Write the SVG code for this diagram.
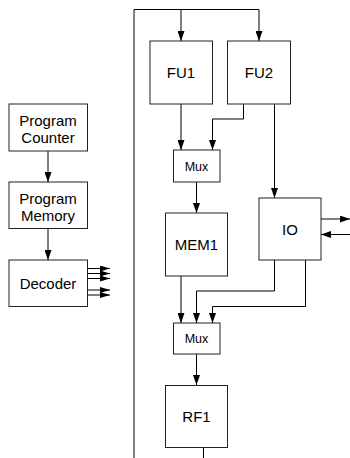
<svg xmlns="http://www.w3.org/2000/svg" width="350" height="458" viewBox="0 0 350 458">
<style>
.box{fill:#fff;stroke:#222;stroke-width:1}
.t{font-family:"Liberation Sans",Arial,sans-serif;font-size:15px;fill:#000;text-anchor:middle}
.s{font-family:"Liberation Sans",Arial,sans-serif;font-size:12.5px;fill:#000;text-anchor:middle}
.c{fill:none;stroke:#000;stroke-width:1}
.ca{fill:none;stroke:#000;stroke-width:1;marker-end:url(#ah)}
.cs{fill:none;stroke:#000;stroke-width:1;marker-end:url(#as)}
</style>
<defs>
<marker id="ah" markerUnits="userSpaceOnUse" markerWidth="10" markerHeight="7" refX="10" refY="3.5" orient="auto"><path d="M0,0 L10,3.5 L0,7 z" fill="#000"/></marker>
<marker id="as" markerUnits="userSpaceOnUse" markerWidth="10" markerHeight="6" refX="10" refY="3" orient="auto"><path d="M0,0 L10,3 L0,6 z" fill="#000"/></marker>
</defs>
<g id="connectors">
<path class="c" d="M134,458 V9.5 H259"/>
<path class="ca" d="M181,9.5 V41"/>
<path class="ca" d="M259,9.5 V41"/>
<path class="ca" d="M181,104 V150"/>
<path class="ca" d="M243.5,104 V119 H212.5 V150"/>
<path class="ca" d="M274.5,104 V198"/>
<path class="ca" d="M196.5,182 V213"/>
<path class="ca" d="M181,276 V323"/>
<path class="ca" d="M274.5,260 V291 H196.5 V323"/>
<path class="ca" d="M305.5,260 V306.5 H212.5 V323"/>
<path class="ca" d="M196.5,354 V385"/>
<path class="c" d="M203.5,448 V458"/>
<path class="ca" d="M321,219 H350"/>
<path class="ca" d="M350,234.5 H321"/>
<path class="ca" d="M48,151 V182"/>
<path class="ca" d="M48,228 V260"/>
<path class="cs" d="M87,268.5 H110"/>
<path class="cs" d="M87,273.5 H110"/>
<path class="cs" d="M87,278.5 H110"/>
<path class="cs" d="M87,290 H110"/>
<path class="cs" d="M87,295 H110"/>
</g>
<g id="pc"><rect class="box" x="9" y="104" width="78.5" height="47"/><text class="t" x="48" y="126">Program</text><text class="t" x="48" y="142.5">Counter</text></g>
<g id="pm"><rect class="box" x="9" y="182" width="78.5" height="46.5"/><text class="t" x="48" y="204">Program</text><text class="t" x="48" y="220.5">Memory</text></g>
<g id="decoder"><rect class="box" x="9" y="260" width="78.5" height="46.5"/><text class="t" x="48" y="288.5">Decoder</text></g>
<g id="fu1"><rect class="box" x="150" y="41" width="62.5" height="63"/><text class="t" x="181" y="78">FU1</text></g>
<g id="fu2"><rect class="box" x="227.5" y="41" width="63" height="63"/><text class="t" x="259" y="78">FU2</text></g>
<g id="mux1"><rect class="box" x="173.5" y="150" width="46.5" height="32"/><text class="s" x="196.5" y="170.5">Mux</text></g>
<g id="mem1"><rect class="box" x="165.5" y="213" width="62" height="63"/><text class="t" x="196.5" y="250">MEM1</text></g>
<g id="io"><rect class="box" x="259" y="198" width="62" height="62"/><text class="t" x="290" y="234.5">IO</text></g>
<g id="mux2"><rect class="box" x="173.5" y="323" width="46.5" height="31"/><text class="s" x="196.5" y="343">Mux</text></g>
<g id="rf1"><rect class="box" x="165.5" y="385.5" width="62" height="62"/><text class="t" x="196.5" y="422">RF1</text></g>
</svg>
